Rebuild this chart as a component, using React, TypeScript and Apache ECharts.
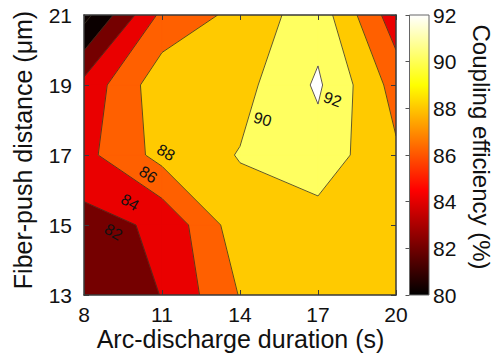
import React, { useEffect, useRef } from "react";
import * as echarts from "echarts";

// Grid of the measurement (arc-discharge duration in s, fiber-push distance in µm)
const xValues = [8, 11, 14, 17, 20];
const yValues = [13, 15, 17, 19, 21];
// Coupling efficiency (%) rows, one per fiber-push distance (bottom to top)
const effAt13 = [82.5, 84.05, 88.1, 88.7, 88.6];
const effAt15 = [83.3, 84.35, 89.2, 89.15, 88.8];
const effAt17 = [85.4, 88.7, 90.1, 91.2, 88.3];
const effAt19 = [84.6, 89.3, 89.3, 92.3, 87.2];
const effAt21 = [79.3, 86.5, 88.6, 91.2, 84.8];
const contourLevels = [80, 82, 84, 86, 88, 90, 92];
const colorMin = 80;
const colorMax = 92;
// contour labels: value, anchor (x, y in data units), tilt in degrees
const labelText = ["82", "84", "86", "88", "90", "92"];
const labelX = [9.13, 9.77, 10.47, 11.15, 14.87, 17.56];
const labelY = [14.8, 15.65, 16.44, 17.07, 18.02, 18.59];
const labelTilt = [30, 30, 33, 30, 15, 20];

const FONT = "'Liberation Sans', Arial, Helvetica, sans-serif";

function hot64(t: number): string {
  const idx = Math.min(64, Math.max(1, Math.floor(t * 64) + 1));
  const r = Math.min(1, idx / 24);
  const g = Math.min(1, Math.max(0, (idx - 24) / 24));
  const b = Math.min(1, Math.max(0, (idx - 48) / 16));
  const h = (v: number) => Math.round(v * 255);
  return `rgb(${h(r)},${h(g)},${h(b)})`;
}

const Z = [effAt13, effAt15, effAt17, effAt19, effAt21];

function cellCorners(i: number, j: number) {
  return [
    [xValues[i], yValues[j], Z[j][i]],
    [xValues[i + 1], yValues[j], Z[j][i + 1]],
    [xValues[i + 1], yValues[j + 1], Z[j + 1][i + 1]],
    [xValues[i], yValues[j + 1], Z[j + 1][i]],
  ];
}

function fillPolygons(L: number): number[][][] {
  const polys: number[][][] = [];
  for (let j = 0; j < yValues.length - 1; j++) {
    for (let i = 0; i < xValues.length - 1; i++) {
      const c = cellCorners(i, j);
      const pts: number[][] = [];
      for (let k = 0; k < 4; k++) {
        const a = c[k];
        const b = c[(k + 1) % 4];
        const ina = a[2] >= L;
        const inb = b[2] >= L;
        if (ina) pts.push([a[0], a[1]]);
        if (ina !== inb) {
          const t = (L - a[2]) / (b[2] - a[2]);
          pts.push([a[0] + t * (b[0] - a[0]), a[1] + t * (b[1] - a[1])]);
        }
      }
      if (pts.length >= 3) polys.push(pts);
    }
  }
  return polys;
}

function contourSegments(L: number): number[][][] {
  const segs: number[][][] = [];
  for (let j = 0; j < yValues.length - 1; j++) {
    for (let i = 0; i < xValues.length - 1; i++) {
      const c = cellCorners(i, j);
      const pts: number[][] = [];
      for (let k = 0; k < 4; k++) {
        const a = c[k];
        const b = c[(k + 1) % 4];
        if ((a[2] >= L) !== (b[2] >= L)) {
          const t = (L - a[2]) / (b[2] - a[2]);
          pts.push([a[0] + t * (b[0] - a[0]), a[1] + t * (b[1] - a[1])]);
        }
      }
      if (pts.length === 2) segs.push([pts[0], pts[1]]);
      if (pts.length === 4) {
        segs.push([pts[0], pts[1]]);
        segs.push([pts[2], pts[3]]);
      }
    }
  }
  return segs;
}

export default function App() {
  const ref = useRef<HTMLDivElement>(null);

  useEffect(() => {
    if (!ref.current) return;
    const chart = echarts.init(ref.current, undefined, { renderer: "svg" });
    const axisColor = "#3a3a3a";
    const tickFont = { fontFamily: FONT, fontSize: 21, color: "#111" };
    const xMin = xValues[0];
    const xMax = xValues[xValues.length - 1];
    const yMin = yValues[0];
    const yMax = yValues[yValues.length - 1];

    const contourRender = (params: any, api: any) => {
      const children: any[] = [];
      const toPx = (p: number[]) => api.coord(p);
      // base (below lowest filled level)
      const base = [
        [xMin, yMin],
        [xMax, yMin],
        [xMax, yMax],
        [xMin, yMax],
      ].map(toPx);
      children.push({
        type: "polygon",
        shape: { points: base },
        style: { fill: hot64(0), stroke: hot64(0), lineWidth: 0.5 },
      });
      contourLevels.slice(1).forEach((L) => {
        const col = hot64((L - colorMin) / (colorMax - colorMin));
        fillPolygons(L).forEach((poly) => {
          children.push({
            type: "polygon",
            shape: { points: poly.map(toPx) },
            style: { fill: col, stroke: col, lineWidth: 0.6 },
          });
        });
      });
      contourLevels.forEach((L) => {
        contourSegments(L).forEach((s) => {
          const a = toPx(s[0]);
          const b = toPx(s[1]);
          children.push({
            type: "line",
            shape: { x1: a[0], y1: a[1], x2: b[0], y2: b[1] },
            style: { stroke: "#3a3020", lineWidth: 0.8 },
          });
        });
      });
      labelText.forEach((txt, k) => {
        const p = toPx([labelX[k], labelY[k]]);
        children.push({
          type: "text",
          x: p[0],
          y: p[1],
          rotation: (-labelTilt[k] * Math.PI) / 180,
          style: {
            text: txt,
            fontFamily: FONT,
            fontSize: 16,
            fill: "#111",
            align: "center",
            verticalAlign: "middle",
          },
        });
      });
      return { type: "group", children };
    };

    const colorbarRender = (params: any, api: any) => {
      const p0 = api.coord([0, colorMin]);
      const p1 = api.coord([1, colorMax]);
      return {
        type: "rect",
        shape: { x: p0[0], y: p1[1], width: p1[0] - p0[0], height: p0[1] - p1[1] },
        style: {
          fill: new echarts.graphic.LinearGradient(0, 1, 0, 0, [
            { offset: 0, color: "#000000" },
            { offset: 0.375, color: "#ff0000" },
            { offset: 0.75, color: "#ffff00" },
            { offset: 1, color: "#ffffff" },
          ]),
          stroke: "#666",
          lineWidth: 1,
        },
      };
    };

    const mainX = {
      type: "value",
      min: xMin,
      max: xMax,
      interval: 3,
      splitLine: { show: false },
      axisLine: { show: true, onZero: false, lineStyle: { color: axisColor, width: 1.5 } },
      axisTick: { show: true, inside: true, length: 5, lineStyle: { color: axisColor, width: 1 } },
      z: 5,
    };
    const mainY = {
      type: "value",
      min: yMin,
      max: yMax,
      interval: 2,
      splitLine: { show: false },
      axisLine: { show: true, onZero: false, lineStyle: { color: axisColor, width: 1.5 } },
      axisTick: { show: true, inside: true, length: 5, lineStyle: { color: axisColor, width: 1 } },
      z: 5,
    };

    chart.setOption({
      animation: false,
      backgroundColor: "#ffffff",
      grid: [
        { left: 84, top: 15, width: 312, height: 280, containLabel: false },
        { left: 409.5, top: 15, width: 19.5, height: 280, containLabel: false },
      ],
      xAxis: [
        { ...mainX, gridIndex: 0, position: "bottom", axisLabel: { ...tickFont, margin: 9 } },
        { ...mainX, gridIndex: 0, position: "top", axisLabel: { show: false } },
        { type: "value", gridIndex: 1, min: 0, max: 1, show: false },
      ],
      yAxis: [
        { ...mainY, gridIndex: 0, position: "left", axisLabel: { ...tickFont, margin: 12 } },
        { ...mainY, gridIndex: 0, position: "right", axisLabel: { show: false } },
        {
          type: "value",
          gridIndex: 1,
          min: colorMin,
          max: colorMax,
          interval: 2,
          position: "right",
          splitLine: { show: false },
          axisLine: { show: false },
          axisTick: { show: true, inside: true, length: 4, lineStyle: { color: "#555", width: 1 } },
          axisLabel: { ...tickFont, margin: 4 },
          z: 5,
        },
      ],
      series: [
        {
          type: "custom",
          xAxisIndex: 0,
          yAxisIndex: 0,
          data: [[xMin, yMin]],
          renderItem: contourRender,
          silent: true,
          clip: true,
        },
        {
          type: "custom",
          xAxisIndex: 2,
          yAxisIndex: 2,
          data: [[0, colorMin]],
          renderItem: colorbarRender,
          silent: true,
        },
      ],
      graphic: [
        {
          type: "text",
          x: 240.5,
          y: 339,
          style: {
            text: "Arc-discharge duration (s)",
            fontFamily: FONT,
            fontSize: 25,
            fill: "#111",
            align: "center",
            verticalAlign: "middle",
          },
        },
        {
          type: "text",
          x: 23,
          y: 150,
          rotation: Math.PI / 2,
          style: {
            text: "Fiber-push distance (μm)",
            fontFamily: FONT,
            fontSize: 25,
            fill: "#111",
            align: "center",
            verticalAlign: "middle",
          },
        },
        {
          type: "text",
          x: 481,
          y: 147,
          rotation: -Math.PI / 2,
          style: {
            text: "Coupling efficiency (%)",
            fontFamily: FONT,
            fontSize: 24,
            fill: "#111",
            align: "center",
            verticalAlign: "middle",
          },
        },
      ],
    });
    return () => chart.dispose();
  }, []);

  return (
    <div
      ref={ref}
      style={{ position: "fixed", left: 0, top: 0, width: 500, height: 360, background: "#fff" }}
    />
  );
}
